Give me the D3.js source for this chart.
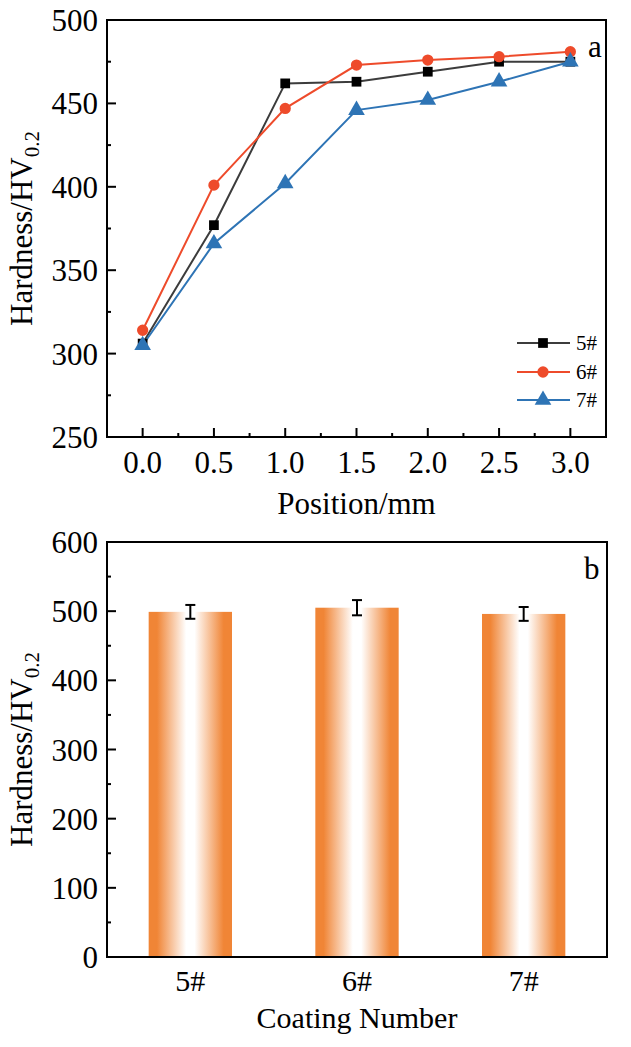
<!DOCTYPE html>
<html>
<head>
<meta charset="utf-8">
<script src="https://cdn.jsdelivr.net/npm/d3@7"></script>
<style>
  body { margin: 0; background: #fff; }
  text { font-family: "Liberation Serif", "Times New Roman", serif; fill: #000; }
</style>
</head>
<body>
<script>
//Data for panel a (hardness profile).
var positions = [0.0, 0.5, 1.0, 1.5, 2.0, 2.5, 3.0];
var hard5 = [306, 377, 462, 463, 469, 475, 475];
var hard6 = [314, 401, 447, 473, 476, 478, 481];
var hard7 = [305, 366, 402, 446, 452, 463, 475];
var seriesNames = ["5#", "6#", "7#"];
var xTicksA = [0.0, 0.5, 1.0, 1.5, 2.0, 2.5, 3.0];
var yTicksA = [250, 300, 350, 400, 450, 500];

//Data for panel b (mean hardness with error).
var coatings = ["5#", "6#", "7#"];
var meanHard = [499, 505, 496];
var errHard = [10, 11, 10];
var yTicksB = [0, 100, 200, 300, 400, 500, 600];

//Styles.
var colors = ["#3c3c3c", "#ee4b2b", "#2e74b5"];
var markColors = ["#000000", "#ee4b2b", "#2e74b5"];
var orange = "#f08536";

//Appending SVG.
var svg = d3.select("body").append("svg").attr("width", 631).attr("height", 1047);

//Gradient for bars.
var grad = svg.append("defs").append("linearGradient")
  .attr("id", "barGrad").attr("x1", "0%").attr("x2", "100%").attr("y1", "0%").attr("y2", "0%");
[[0, orange], [0.1, orange], [0.45, "#ffffff"], [0.55, "#ffffff"], [0.9, orange], [1, orange]].forEach(function(s) {
  grad.append("stop").attr("offset", s[0]).attr("stop-color", s[1]);
});

//Helper to draw inward ticks.
function inwardTicks(g, scale, values, len, orient, x0, y0) {
  values.forEach(function(v) {
    if (orient === "bottom") {
      g.append("line").attr("x1", scale(v)).attr("x2", scale(v)).attr("y1", y0).attr("y2", y0 - len)
        .attr("stroke", "#000").attr("stroke-width", 2);
    } else {
      g.append("line").attr("x1", x0).attr("x2", x0 + len).attr("y1", scale(v)).attr("y2", scale(v))
        .attr("stroke", "#000").attr("stroke-width", 2);
    }
  });
}

//Y label with subscript.
function yLabel(cx, cy) {
  var t = svg.append("text")
    .attr("transform", "translate(" + cx + "," + cy + ") rotate(-90)")
    .attr("text-anchor", "middle").attr("font-size", 31);
  t.append("tspan").text("Hardness/HV");
  t.append("tspan").attr("font-size", 21).attr("dy", 7).text("0.2");
}

//---------- Panel a ----------
var aL = 107, aR = 606, aT = 20, aB = 437;
var xA = d3.scaleLinear().domain([-0.25, 3.25]).range([aL, aR]);
var yA = d3.scaleLinear().domain([250, 500]).range([aB, aT]);
var gA = svg.append("g");

//Lines and markers.
var allSeries = [hard5, hard6, hard7];
var line = d3.line().x(function(d, i) { return xA(positions[i]); }).y(function(d) { return yA(d); });
var sym = [d3.symbolSquare, d3.symbolCircle, d3.symbolTriangle];
var symSize = [95, 100, 120];

allSeries.forEach(function(s, k) {
  gA.append("path").datum(s).attr("d", line).attr("fill", "none")
    .attr("stroke", colors[k]).attr("stroke-width", 2);
});
allSeries.forEach(function(s, k) {
  gA.selectAll(".m" + k).data(s).enter().append("path")
    .attr("transform", function(d, i) { return "translate(" + xA(positions[i]) + "," + yA(d) + ")"; })
    .attr("d", d3.symbol().type(sym[k]).size(symSize[k]))
    .attr("fill", markColors[k]);
});

//Frame.
gA.append("rect").attr("x", aL).attr("y", aT).attr("width", aR - aL).attr("height", aB - aT)
  .attr("fill", "none").attr("stroke", "#000").attr("stroke-width", 2);

//Ticks.
inwardTicks(gA, xA, xTicksA, 9, "bottom", 0, aB);
inwardTicks(gA, xA, xTicksA.slice(0, -1).map(function(v) { return v + 0.25; }), 4, "bottom", 0, aB);
inwardTicks(gA, yA, yTicksA, 9, "left", aL, 0);
inwardTicks(gA, yA, yTicksA.slice(0, -1).map(function(v) { return v + 25; }), 4, "left", aL, 0);

//Tick labels.
gA.selectAll(".xl").data(xTicksA).enter().append("text")
  .attr("x", function(d) { return xA(d); }).attr("y", 473)
  .attr("text-anchor", "middle").attr("font-size", 31).text(function(d) { return d.toFixed(1); });
gA.selectAll(".yl").data(yTicksA).enter().append("text")
  .attr("x", 98).attr("y", function(d) { return yA(d) + 11; })
  .attr("text-anchor", "end").attr("font-size", 31).text(function(d) { return d; });

//Axis titles.
svg.append("text").attr("x", xA(1.5)).attr("y", 514).attr("text-anchor", "middle")
  .attr("font-size", 31).text("Position/mm");
yLabel(32, (aT + aB) / 2);
svg.append("text").attr("x", 588).attr("y", 57).attr("font-size", 31).text("a");

//Legend.
var legY = [343, 372, 400];
seriesNames.forEach(function(n, k) {
  gA.append("line").attr("x1", 517).attr("x2", 570).attr("y1", legY[k]).attr("y2", legY[k])
    .attr("stroke", colors[k]).attr("stroke-width", 2);
  gA.append("path").attr("transform", "translate(543," + legY[k] + ")")
    .attr("d", d3.symbol().type(sym[k]).size(symSize[k])).attr("fill", markColors[k]);
  gA.append("text").attr("x", 576).attr("y", legY[k] + 7).attr("font-size", 21).text(n);
});

//---------- Panel b ----------
var bL = 107, bR = 607, bT = 542, bB = 957;
var xB = d3.scaleBand().domain(coatings).range([bL, bR]).paddingInner(0.5).paddingOuter(0.25);
var yB = d3.scaleLinear().domain([0, 600]).range([bB, bT]);
var gB = svg.append("g");

//Bars.
gB.selectAll(".bar").data(meanHard).enter().append("rect")
  .attr("x", function(d, i) { return xB(coatings[i]); })
  .attr("y", function(d) { return yB(d); })
  .attr("width", xB.bandwidth())
  .attr("height", function(d) { return bB - yB(d); })
  .attr("fill", "url(#barGrad)");

//Error bars.
meanHard.forEach(function(d, i) {
  var cx = xB(coatings[i]) + xB.bandwidth() / 2;
  var e = errHard[i];
  gB.append("line").attr("x1", cx).attr("x2", cx).attr("y1", yB(d + e)).attr("y2", yB(d - e))
    .attr("stroke", "#000").attr("stroke-width", 2);
  [d + e, d - e].forEach(function(v) {
    gB.append("line").attr("x1", cx - 5).attr("x2", cx + 5).attr("y1", yB(v)).attr("y2", yB(v))
      .attr("stroke", "#000").attr("stroke-width", 2);
  });
});

//Frame.
gB.append("rect").attr("x", bL).attr("y", bT).attr("width", bR - bL).attr("height", bB - bT)
  .attr("fill", "none").attr("stroke", "#000").attr("stroke-width", 2);

//Ticks.
inwardTicks(gB, yB, yTicksB, 9, "left", bL, 0);
inwardTicks(gB, yB, yTicksB.slice(0, -1).map(function(v) { return v + 50; }), 4, "left", bL, 0);

//Tick labels.
gB.selectAll(".xl").data(coatings).enter().append("text")
  .attr("x", function(d) { return xB(d) + xB.bandwidth() / 2; }).attr("y", 991)
  .attr("text-anchor", "middle").attr("font-size", 30).text(function(d) { return d; });
gB.selectAll(".yl").data(yTicksB).enter().append("text")
  .attr("x", 98).attr("y", function(d) { return yB(d) + 11; })
  .attr("text-anchor", "end").attr("font-size", 31).text(function(d) { return d; });

//Axis titles.
svg.append("text").attr("x", (bL + bR) / 2).attr("y", 1028).attr("text-anchor", "middle")
  .attr("font-size", 30).text("Coating Number");
yLabel(32, (bT + bB) / 2);
svg.append("text").attr("x", 584).attr("y", 579).attr("font-size", 31).text("b");
</script>
</body>
</html>
